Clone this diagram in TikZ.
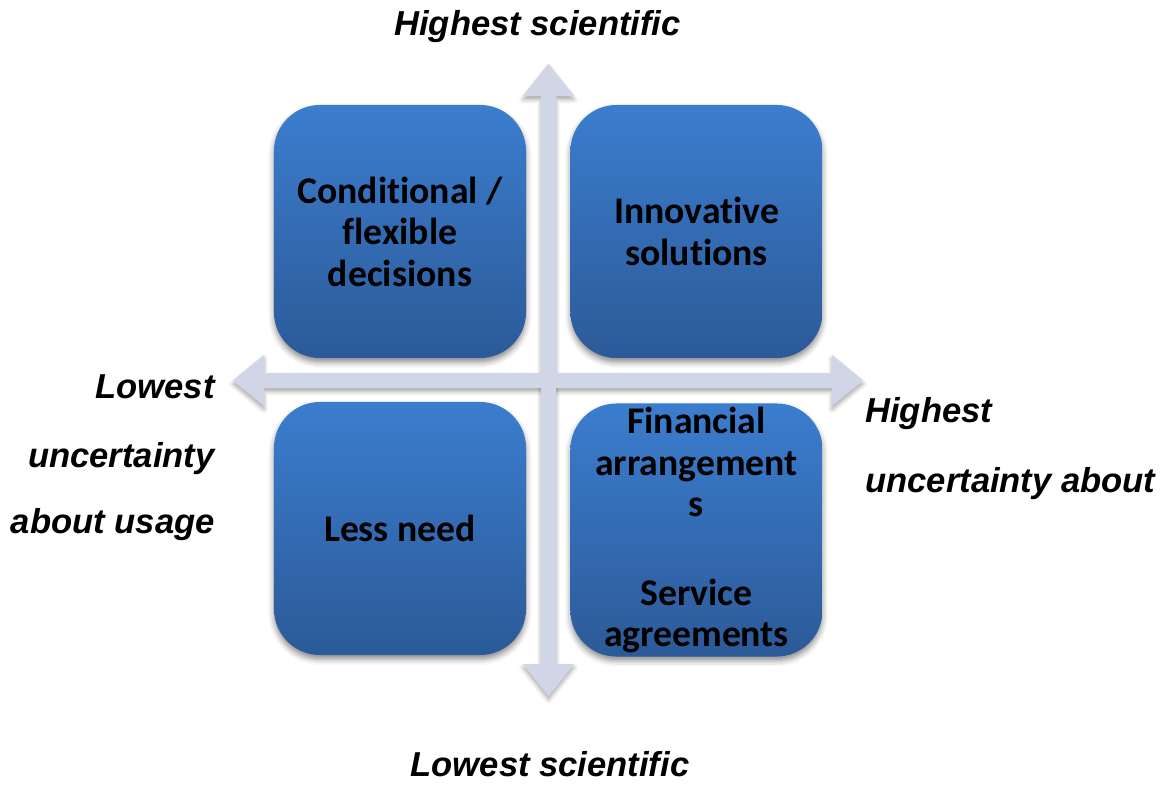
\documentclass[tikz,border=0pt]{standalone}
\usepackage{fontspec}
\newfontfamily\boxfont[Ligatures=NoCommon]{Carlito}
\newfontfamily\labfont{Liberation Sans}
\usetikzlibrary{shadows.blur}
\definecolor{axiscol}{RGB}{208,214,230}
\definecolor{boxtop}{RGB}{59,125,206}
\definecolor{boxbot}{RGB}{44,90,152}
\begin{document}
\begin{tikzpicture}[x=0.025cm,y=-0.025cm,
  quad/.style={rectangle, rounded corners=1.15cm, minimum width=6.3cm, minimum height=6.325cm,
    top color=boxtop, bottom color=boxbot, draw=none, align=center, inner sep=0pt,
    font=\boxfont\bfseries\fontsize{26.8}{29.5}\selectfont,
    blur shadow={shadow xshift=0pt, shadow yshift=-3pt, shadow blur radius=4pt, shadow opacity=45}},
  lab/.style={font=\labfont\bfseries\itshape\fontsize{24.6}{28}\selectfont, inner sep=0pt},
  axisshadow/.style={fill=axiscol, draw=none,
    blur shadow={shadow xshift=0pt, shadow yshift=-2.5pt, shadow blur radius=3pt, shadow opacity=35}},
  axisfill/.style={fill=axiscol, draw=none}]
\useasboundingbox (0,0) rectangle (1166,784);
% axis coordinates
\coordinate (ltip) at (233,380.5);
\coordinate (rtip) at (863,380.5);
\coordinate (ttip) at (548.5,64);
\coordinate (btip) at (548.5,696);
% double arrows: shadows first, then clean fills on top
\foreach \st in {axisshadow,axisfill}{
\path[\st] (ltip) -- (264,355) -- (264,373) -- (832,373) -- (832,355) -- (rtip)
  -- (832,406) -- (832,388) -- (264,388) -- (264,406) -- cycle;
\path[\st] (ttip) -- (574,96) -- (556,96) -- (556,664) -- (574,664) -- (btip)
  -- (523,664) -- (541,664) -- (541,96) -- (523,96) -- cycle;
}
% quadrants
\node[quad] (tl) at (400,231.5) {Conditional /\\flexible\\decisions};
\node[quad] (tr) at (696.5,231.5) {Innovative\\solutions};
\node[quad] (bl) at (400,528.5) {Less need};
\node[quad] (br) at (696.5,530) {Financial\\arrangement\\s\\[4pt]\mbox{}\\Service\\agreements};
% labels
\node[lab, anchor=base] (top) at (537.5,35) {Highest scientific};
\node[lab, anchor=base] (bot) at (550,776) {Lowest scientific};
\node[lab, anchor=base east] (l1) at (215,398) {Lowest};
\node[lab, anchor=base east] (l2) at (215,467) {uncertainty};
\node[lab, anchor=base east] (l3) at (215,533) {about usage};
\node[lab, anchor=base west] (r1) at (865,422) {Highest};
\node[lab, anchor=base west] (r2) at (865,492) {uncertainty about};
\end{tikzpicture}
\end{document}
